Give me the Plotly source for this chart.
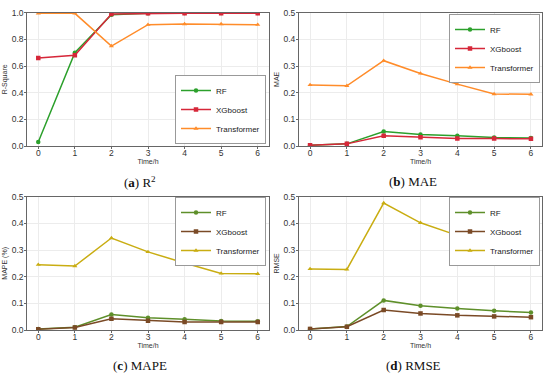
import plotly.graph_objects as go

hours = [0, 1, 2, 3, 4, 5, 6]
x_ticks = [0, 1, 2, 3, 4, 5, 6]
models = ["RF", "XGboost", "Transformer"]

r2_rf = [0.03, 0.70, 0.985, 0.995, 0.997, 0.997, 0.997]
r2_xgb = [0.66, 0.68, 0.99, 0.995, 0.995, 0.995, 0.995]
r2_tr = [0.995, 0.995, 0.75, 0.91, 0.915, 0.915, 0.91]

mae_rf = [0.003, 0.008, 0.054, 0.043, 0.038, 0.032, 0.030]
mae_xgb = [0.003, 0.008, 0.038, 0.033, 0.028, 0.028, 0.027]
mae_tr = [0.229, 0.226, 0.320, 0.272, 0.232, 0.195, 0.194]

mape_rf = [0.004, 0.010, 0.058, 0.046, 0.040, 0.034, 0.033]
mape_xgb = [0.003, 0.009, 0.042, 0.035, 0.030, 0.030, 0.030]
mape_tr = [0.245, 0.240, 0.345, 0.293, 0.251, 0.212, 0.211]

rmse_rf = [0.004, 0.013, 0.111, 0.091, 0.081, 0.072, 0.066]
rmse_xgb = [0.004, 0.012, 0.075, 0.062, 0.055, 0.051, 0.048]
rmse_tr = [0.229, 0.227, 0.476, 0.402, 0.355, 0.316, 0.336]

colors_top = ["#2ca02c", "#d62739", "#ff8c2a"]
colors_bot = ["#5e8f2a", "#7a4a26", "#c9ad12"]
symbols = ["circle", "square", "triangle-up"]

W, H = 550, 378


def px_x(a, b):
    return [a / W, min(1.0, b / W)]


def px_y(top, bot):
    return [1 - bot / H, 1 - top / H]


def fx(v):
    return v / W


def fy(v):
    return 1 - v / H


panels = [
    dict(data=[r2_rf, r2_xgb, r2_tr], colors=colors_top, ytitle="R-Square", yr=[0, 1.0], dt=0.2,
         xd=px_x(27.3, 268.7), yd=px_y(12.7, 146), cap="(<b>a</b>) R<sup>2</sup>", capx=140, capy=182,
         leg=dict(x=fx(266), y=fy(144), xanchor="right", yanchor="bottom")),
    dict(data=[mae_rf, mae_xgb, mae_tr], colors=colors_top, ytitle="MAE", yr=[0, 0.5], dt=0.1,
         xd=px_x(299, 542), yd=px_y(12.7, 146), cap="(<b>b</b>) MAE", capx=413, capy=182,
         leg=dict(x=fx(540), y=fy(14), xanchor="right", yanchor="top")),
    dict(data=[mape_rf, mape_xgb, mape_tr], colors=colors_bot, ytitle="MAPE (%)", yr=[0, 0.5], dt=0.1,
         xd=px_x(27.3, 268.7), yd=px_y(196.7, 330), cap="(<b>c</b>) MAPE", capx=140, capy=365,
         leg=dict(x=fx(266), y=fy(197), xanchor="right", yanchor="top")),
    dict(data=[rmse_rf, rmse_xgb, rmse_tr], colors=colors_bot, ytitle="RMSE", yr=[0, 0.5], dt=0.1,
         xd=px_x(299, 542), yd=px_y(196.7, 330), cap="(<b>d</b>) RMSE", capx=413, capy=365,
         leg=dict(x=fx(540), y=fy(197), xanchor="right", yanchor="top")),
]

fig = go.Figure()
layout = dict(
    width=W, height=H, margin=dict(l=0, r=0, t=0, b=0, autoexpand=False),
    paper_bgcolor="white", plot_bgcolor="white",
    font=dict(family="Liberation Sans, Arial, sans-serif", size=8, color="#333"),
    annotations=[],
)

for i, p in enumerate(panels):
    sfx = "" if i == 0 else str(i + 1)
    legname = "legend" + sfx
    for j, m in enumerate(models):
        fig.add_trace(go.Scatter(
            x=hours, y=p["data"][j], mode="lines+markers", name=m,
            line=dict(color=p["colors"][j], width=1.5),
            marker=dict(symbol=symbols[j], size=4.5, color=p["colors"][j]),
            xaxis="x" + sfx, yaxis="y" + sfx, legend=legname,
        ))
    axcommon = dict(showline=True, mirror=True, linecolor="#666", linewidth=1,
                    showgrid=True, gridcolor="#ececec", gridwidth=1,
                    ticks="outside", ticklen=2, tickcolor="#666", zeroline=False,
                    automargin=False, tickfont=dict(size=8.5, color="#333"))
    layout["xaxis" + sfx] = dict(domain=p["xd"], range=[-0.3, 6.3], tickmode="array", tickvals=x_ticks,
                                 ticklabelstandoff=-3,
                                 title=dict(text="Time/h", font=dict(size=7), standoff=1),
                                 anchor="y" + sfx, **axcommon)
    layout["yaxis" + sfx] = dict(domain=p["yd"], range=p["yr"], dtick=p["dt"], tick0=0, tickformat=".1f",
                                 ticklabelstandoff=-1,
                                 title=dict(text=p["ytitle"], font=dict(size=7), standoff=3),
                                 anchor="x" + sfx, **axcommon)
    layout[legname] = dict(x=p["leg"]["x"], y=p["leg"]["y"], xanchor=p["leg"]["xanchor"],
                           yanchor=p["leg"]["yanchor"], bgcolor="white", bordercolor="#999",
                           borderwidth=1, font=dict(size=8, color="#222"), tracegroupgap=0,
                           itemwidth=30)
    layout["annotations"].append(dict(text=p["cap"], x=fx(p["capx"]), y=fy(p["capy"]),
                                      xref="paper", yref="paper", showarrow=False,
                                      xanchor="center", yanchor="middle",
                                      font=dict(family="Liberation Serif, Times New Roman, serif", size=13, color="#111")))

fig.update_layout(**layout)
fig.write_html("out.html", config={"displayModeBar": False},
               post_script="document.body.style.margin='0';document.body.style.overflow='hidden';")
